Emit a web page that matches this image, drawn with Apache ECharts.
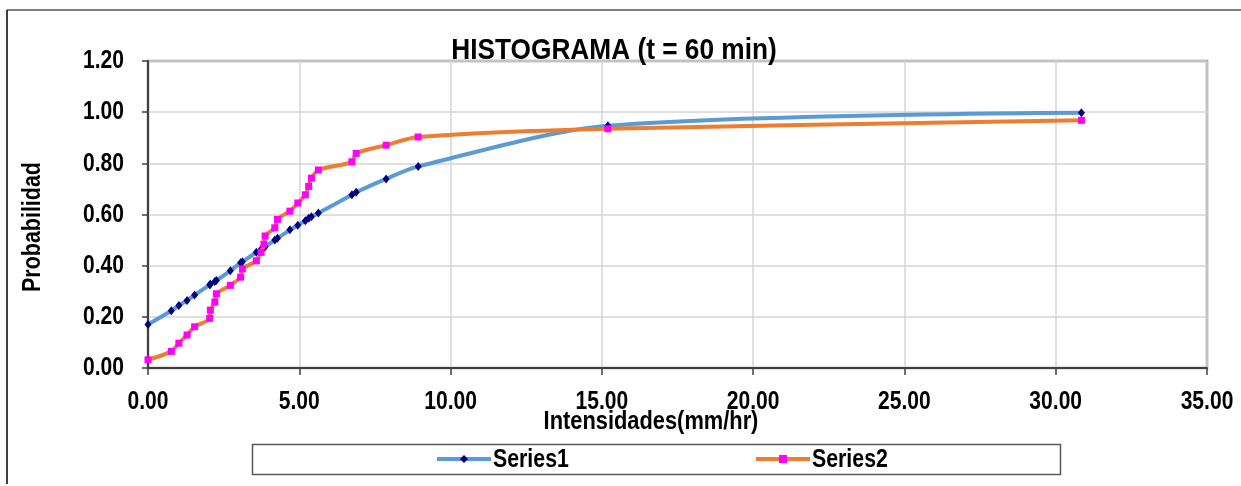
<!DOCTYPE html>
<html>
<head>
<meta charset="utf-8">
<script src="https://cdn.jsdelivr.net/npm/echarts@6/dist/echarts.min.js"></script>
<style>
html,body{margin:0;padding:0;background:#fff;}
#chart{width:1241px;height:486px;}
</style>
</head>
<body>
<div id="chart"></div>
<script>
// ---- data ----
const intensities = [0.00, 0.77, 1.02, 1.29, 1.54, 2.04, 2.06, 2.21, 2.26, 2.72, 3.06, 3.12, 3.58, 3.74, 3.83, 3.87, 4.19, 4.28, 4.69, 4.95, 5.20, 5.31, 5.40, 5.63, 6.74, 6.88, 7.87, 8.93, 15.20, 30.85];
const series1Prob = [0.170, 0.224, 0.244, 0.264, 0.285, 0.325, 0.327, 0.338, 0.342, 0.380, 0.411, 0.415, 0.452, 0.464, 0.471, 0.474, 0.500, 0.507, 0.540, 0.558, 0.576, 0.585, 0.591, 0.606, 0.677, 0.687, 0.739, 0.788, 0.947, 0.998];
const series2Prob = [0.032, 0.065, 0.097, 0.129, 0.161, 0.194, 0.226, 0.258, 0.290, 0.323, 0.355, 0.387, 0.419, 0.452, 0.484, 0.516, 0.548, 0.581, 0.613, 0.645, 0.677, 0.710, 0.742, 0.774, 0.806, 0.839, 0.871, 0.903, 0.935, 0.968];
const seriesNames = ['Series1', 'Series2'];
const xTicks = [0, 5, 10, 15, 20, 25, 30, 35];
const xTickLabels = ['0.00', '5.00', '10.00', '15.00', '20.00', '25.00', '30.00', '35.00'];
const yTicks = [0, 0.2, 0.4, 0.6, 0.8, 1.0, 1.2];
const yTickLabels = ['0.00', '0.20', '0.40', '0.60', '0.80', '1.00', '1.20'];
const titleText = 'HISTOGRAMA (t = 60 min)';
const xAxisName = 'Intensidades(mm/hr)';
const yAxisName = 'Probabilidad';

const FONT = "'Liberation Sans', Arial, sans-serif";
const NARROW = 0.81; // horizontal condensation to mimic Arial Narrow

const chart = echarts.init(document.getElementById('chart'), null, {renderer: 'canvas'});

function pairs(xs, ys) { return xs.map((x, i) => [x, ys[i]]); }

const legendCommon = {
  show: true, top: 454, padding: 0,
  itemWidth: 54, itemHeight: 10,
  formatter: () => '',
  lineStyle: {width: 4},
  textStyle: {fontSize: 1}
};

const option = {
  animation: false,
  backgroundColor: '#ffffff',
  grid: {
    left: 148, right: 34, top: 61, bottom: 118,
    show: true, borderColor: '#8c8c8c', borderWidth: 2.5, backgroundColor: 'transparent'
  },
  xAxis: {
    type: 'value', min: 0, max: 35, interval: 5,
    axisLine: {show: true, onZero: false, lineStyle: {color: '#404040', width: 2}},
    axisTick: {show: true, inside: false, length: 7, lineStyle: {color: '#404040', width: 1.5}},
    axisLabel: {show: false},
    splitLine: {show: true, lineStyle: {color: '#d4d4d4', width: 1.5}}
  },
  yAxis: {
    type: 'value', min: 0, max: 1.2, interval: 0.2,
    axisLine: {show: true, onZero: false, lineStyle: {color: '#404040', width: 2}},
    axisTick: {show: true, inside: false, length: 6, lineStyle: {color: '#404040', width: 1.5}},
    axisLabel: {show: false},
    splitLine: {show: true, lineStyle: {color: '#d4d4d4', width: 1.5}}
  },
  legend: [
    Object.assign({}, legendCommon, {left: 435, data: [seriesNames[0]]}),
    Object.assign({}, legendCommon, {left: 754, data: [seriesNames[1]]})
  ],
  series: [
    {
      name: seriesNames[0], type: 'line', data: pairs(intensities, series1Prob),
      smooth: 0.3,
      symbol: 'diamond', symbolSize: [7, 9],
      lineStyle: {color: '#5B9BD5', width: 4},
      itemStyle: {color: '#000080', borderWidth: 0},
      color: '#5B9BD5',
      z: 2
    },
    {
      name: seriesNames[1], type: 'line', data: pairs(intensities, series2Prob),
      smooth: 0.3,
      symbol: 'rect', symbolSize: 7,
      lineStyle: {color: '#ED7D31', width: 4},
      itemStyle: {color: '#FF00FF', borderWidth: 0},
      color: '#ED7D31',
      z: 3
    }
  ]
};
chart.setOption(option);

function txt(x, y, text, size, align, extra) {
  return Object.assign({
    type: 'text', x: x, y: y, scaleX: NARROW, silent: true, z: 10,
    style: {text: text, textAlign: align, textVerticalAlign: 'middle',
      font: 'bold ' + size + 'px ' + FONT, fill: '#000'}
  }, extra || {});
}

const graphics = [
  // outer chart frame
  {type: 'line', shape: {x1: 7, y1: 10, x2: 1241, y2: 10}, style: {stroke: '#7f7f7f', lineWidth: 2}, silent: true},
  {type: 'line', shape: {x1: 7, y1: 10, x2: 7, y2: 484}, style: {stroke: '#000', lineWidth: 1.5}, silent: true},
  // legend box
  {type: 'rect', shape: {x: 252.5, y: 444.5, width: 808, height: 30}, style: {fill: 'none', stroke: '#595959', lineWidth: 1.5}, silent: true, z: -1},
  // title
  txt(614, 51, titleText, 30, 'center', {scaleX: 0.875}),
  // axis names
  txt(651, 422, xAxisName, 26, 'center', {scaleX: 0.84}),
  txt(33, 227, yAxisName, 26, 'center', {rotation: Math.PI / 2, scaleX: 0.825}),
  // legend names
  txt(493, 460, seriesNames[0], 26, 'left', {scaleX: 0.82}),
  txt(812, 460, seriesNames[1], 26, 'left', {scaleX: 0.82})
];
xTicks.forEach((v, i) => {
  graphics.push(txt(chart.convertToPixel({xAxisIndex: 0}, v), 402, xTickLabels[i], 26, 'center'));
});
yTicks.forEach((v, i) => {
  graphics.push(txt(124, chart.convertToPixel({yAxisIndex: 0}, v), yTickLabels[i], 26, 'right'));
});
chart.setOption({graphic: graphics});
</script>
</body>
</html>
